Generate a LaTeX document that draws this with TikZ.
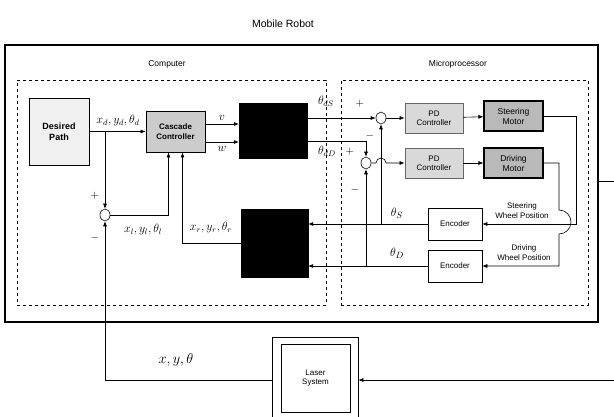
\documentclass[tikz,border=0pt]{standalone}
\usepackage{fontspec}
\setmainfont{Liberation Sans}
\usetikzlibrary{arrows.meta,shapes.geometric}
\begin{document}
\begin{tikzpicture}[x=1pt,y=-1pt,
  arr/.style={-{Latex[length=5pt,width=4pt]}, line width=0.6pt},
  ln/.style={line width=0.6pt},
  bx/.style={draw, line width=0.8pt, inner sep=0pt, align=center, font=\fontsize{8}{9}\selectfont},
  shade1/.style={bx, fill=gray!30, draw=gray!80!black},
  shade2/.style={bx, fill=gray!55, line width=1.1pt},
  blackbox/.style={draw, fill=black, inner sep=0pt},
  dbox/.style={draw, dashed, line width=0.5pt, inner sep=0pt},
  sumj/.style={draw, ellipse, minimum width=10pt, minimum height=12pt, inner sep=0pt, line width=0.6pt},
  lbl/.style={font=\fontsize{8.5}{10}\selectfont},
  mlbl/.style={font=\fontsize{12}{13}\selectfont, inner sep=1pt},
  sgn/.style={font=\fontsize{11}{11}\selectfont, inner sep=0pt}
]
\useasboundingbox (0,0) rectangle (614,417);

% frames
\node[font=\fontsize{10.5}{12}\selectfont] (title) at (283,24) {Mobile Robot};
\node[draw, line width=1.1pt, minimum width=593pt, minimum height=277pt, inner sep=0pt] (robot) at (301.5,183.5) {};
\node[dbox, minimum width=309pt, minimum height=225pt] (comp) at (171.5,192.5) {};
\node[dbox, minimum width=247pt, minimum height=225pt] (micro) at (464.5,192.5) {};
\node[lbl] (complbl) at (167,64) {Computer};
\node[lbl] (microlbl) at (458,64) {Microprocessor};

% computer blocks
\node[bx, fill=gray!12, minimum width=60pt, minimum height=67pt, font=\fontsize{9}{11}\bfseries] (desired) at (59,131.5) {Desired\\Path};
\node[bx, fill=gray!40, minimum width=59pt, minimum height=41pt, font=\fontsize{8}{9.5}\bfseries] (cascade) at (175.5,131.5) {Cascade\\Controller};
\node[blackbox, minimum width=68pt, minimum height=55pt] (black1) at (273,130.5) {};
\node[blackbox, minimum width=67pt, minimum height=68pt] (black2) at (274.5,243) {};
\node[sumj] (sum0) at (105,215) {};

% microprocessor blocks
\node[sumj] (sum1) at (381,118) {};
\node[sumj] (sum2) at (366,163) {};
\node[shade1, minimum width=58pt, minimum height=30pt] (pd1) at (434,118) {PD\\Controller};
\node[shade1, minimum width=58pt, minimum height=30pt] (pd2) at (434,163) {PD\\Controller};
\node[shade2, minimum width=59pt, minimum height=30pt, font=\fontsize{8.5}{10}\selectfont] (steer) at (513.5,116) {Steering\\Motor};
\node[shade2, minimum width=59pt, minimum height=30pt, font=\fontsize{8.5}{10}\selectfont] (drive) at (513.5,163) {Driving\\Motor};
\node[bx, line width=0.6pt, minimum width=54pt, minimum height=32pt] (enc1) at (455,224) {Encoder};
\node[bx, line width=0.6pt, minimum width=54pt, minimum height=32pt] (enc2) at (455,266) {Encoder};

% laser
\node[draw, line width=0.6pt, minimum width=86pt, minimum height=86pt, inner sep=0pt] (laserout) at (315,380) {};
\node[bx, line width=0.6pt, minimum width=69pt, minimum height=68pt] (laserin) at (315.5,378) {Laser\\System};

% coordinates
\coordinate (tap) at (105,131.5);
\coordinate (sc) at (576,224);
\coordinate (dc) at (559,210);
\coordinate (rout) at (614,181);
\coordinate (rin) at (614,380);

% connectors
\draw[arr] (desired) -- (cascade);
\draw[arr] (tap) -- (sum0.north);
\draw[arr] (sum0.east) -| ([xshift=-7pt]cascade.south);
\draw[arr] (black2.west) -| ([xshift=7pt]cascade.south);
\draw[arr] ([yshift=7.5pt]cascade.east) -- ([yshift=7.5pt]cascade.east -| black1.west);
\draw[arr] ([yshift=-10.5pt]cascade.east) -- ([yshift=-10.5pt]cascade.east -| black1.west);
\draw[arr] (black1.east |- sum1) -- (sum1.west);
\draw[arr] ([yshift=-10.5pt]black1.east) -| (sum2.north);
\draw[arr] (sum1) -- (pd1);
\draw[arr] (sum2.east) -- (376,163) arc[start angle=180, end angle=0, radius=5pt] -- (pd2.west);
\draw[arr] (pd1) -- (steer);
\draw[arr] (pd2) -- (drive);
\draw[arr] (sum1 |- enc1.west) -- (sum1.south);
\draw[arr] (sum2 |- enc2.west) -- (sum2.south);
\draw[arr] (enc1.west) -- (enc1.west -| black2.east);
\draw[arr] (enc2.west) -- (enc2.west -| black2.east);
\draw[arr] (steer.east) -| (sc) -- (enc1.east);
\draw[arr] (drive.east) -| (dc) arc[start angle=90, end angle=-90, radius=12pt] -- (dc |- enc2.east) -- (enc2.east);
\draw[arr] (laserout.west) -| (sum0.south);
\draw[arr] (rin) -- (laserout.east);
\draw[ln] (robot.east |- rout) -- (rout);

% labels
\node[mlbl] (lxd) at (118,121) {$x_d, y_d, \theta_d$};
\node[mlbl] (lv) at (222,118) {$v$};
\node[mlbl] (lw) at (222,149) {$w$};
\node[mlbl] (lxl) at (143,230) {$x_l, y_l, \theta_l$};
\node[mlbl] (lxr) at (211,228) {$x_r, y_r, \theta_r$};
\node[mlbl, font=\fontsize{14}{15}\selectfont] (lxy) at (176,360) {$x, y, \theta$};
\node[mlbl] (lds) at (326,101) {$\theta_{dS}$};
\node[mlbl] (ldd) at (327,151) {$\theta_{dD}$};
\node[mlbl, font=\fontsize{13}{14}\selectfont] (lts) at (397,213) {$\theta_S$};
\node[mlbl, font=\fontsize{13}{14}\selectfont] (ltd) at (397,253) {$\theta_D$};
\node[sgn] (p0) at (95,196) {$+$};
\node[sgn] (m0) at (95,238) {$-$};
\node[sgn] (p1) at (360,104) {$+$};
\node[sgn] (m1) at (370,136) {$-$};
\node[sgn] (p2) at (350,152) {$+$};
\node[sgn] (m2) at (355,190) {$-$};
\node[align=center, font=\fontsize{8}{10}\selectfont] (swp) at (522,211) {Steering\\Wheel Position};
\node[align=center, font=\fontsize{8}{10}\selectfont] (dwp) at (524,253) {Driving\\Wheel Position};
\end{tikzpicture}
\end{document}
